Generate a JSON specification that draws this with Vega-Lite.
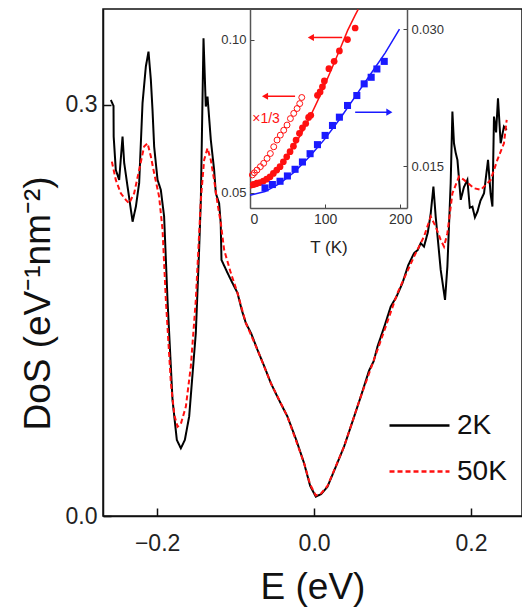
{
  "$schema": "https://vega.github.io/schema/vega-lite/v6.json",
  "width": 419,
  "height": 507,
  "autosize": {"type": "none"},
  "padding": {"left": 103, "top": 9, "right": 0, "bottom": 98},
  "background": "white",
  "config": {
    "view": {"stroke": "#111", "strokeWidth": 1.5},
    "font": "Liberation Sans",
    "axis": {"grid": false, "labelFont": "Liberation Sans", "titleFont": "Liberation Sans"}
  },
  "datasets": {
    "dos": [
      {"E": -0.2590, "DoS": 0.3036, "series": "2K"},
      {"E": -0.2556, "DoS": 0.2993, "series": "2K"},
      {"E": -0.2554, "DoS": 0.2769, "series": "2K"},
      {"E": -0.2527, "DoS": 0.2526, "series": "2K"},
      {"E": -0.2484, "DoS": 0.2453, "series": "2K"},
      {"E": -0.2441, "DoS": 0.2769, "series": "2K"},
      {"E": -0.2420, "DoS": 0.2577, "series": "2K"},
      {"E": -0.2377, "DoS": 0.2404, "series": "2K"},
      {"E": -0.2313, "DoS": 0.2148, "series": "2K"},
      {"E": -0.2271, "DoS": 0.2258, "series": "2K"},
      {"E": -0.2229, "DoS": 0.2431, "series": "2K"},
      {"E": -0.2186, "DoS": 0.3015, "series": "2K"},
      {"E": -0.2144, "DoS": 0.3280, "series": "2K"},
      {"E": -0.2110, "DoS": 0.3389, "series": "2K"},
      {"E": -0.2080, "DoS": 0.3182, "series": "2K"},
      {"E": -0.2059, "DoS": 0.2964, "series": "2K"},
      {"E": -0.2038, "DoS": 0.2696, "series": "2K"},
      {"E": -0.1995, "DoS": 0.2453, "series": "2K"},
      {"E": -0.1953, "DoS": 0.2380, "series": "2K"},
      {"E": -0.1911, "DoS": 0.2185, "series": "2K"},
      {"E": -0.1868, "DoS": 0.1577, "series": "2K"},
      {"E": -0.1804, "DoS": 0.0847, "series": "2K"},
      {"E": -0.1749, "DoS": 0.0555, "series": "2K"},
      {"E": -0.1698, "DoS": 0.0494, "series": "2K"},
      {"E": -0.1647, "DoS": 0.0555, "series": "2K"},
      {"E": -0.1592, "DoS": 0.0725, "series": "2K"},
      {"E": -0.1507, "DoS": 0.1336, "series": "2K"},
      {"E": -0.1465, "DoS": 0.1942, "series": "2K"},
      {"E": -0.1443, "DoS": 0.2307, "series": "2K"},
      {"E": -0.1409, "DoS": 0.3487, "series": "2K"},
      {"E": -0.1380, "DoS": 0.2988, "series": "2K"},
      {"E": -0.1358, "DoS": 0.3061, "series": "2K"},
      {"E": -0.1316, "DoS": 0.2745, "series": "2K"},
      {"E": -0.1274, "DoS": 0.2526, "series": "2K"},
      {"E": -0.1252, "DoS": 0.2355, "series": "2K"},
      {"E": -0.1210, "DoS": 0.2282, "series": "2K"},
      {"E": -0.1190, "DoS": 0.2139, "series": "2K"},
      {"E": -0.1180, "DoS": 0.1869, "series": "2K"},
      {"E": -0.1103, "DoS": 0.1774, "series": "2K"},
      {"E": -0.1040, "DoS": 0.1700, "series": "2K"},
      {"E": -0.0976, "DoS": 0.1628, "series": "2K"},
      {"E": -0.0920, "DoS": 0.1500, "series": "2K"},
      {"E": -0.0870, "DoS": 0.1409, "series": "2K"},
      {"E": -0.0800, "DoS": 0.1330, "series": "2K"},
      {"E": -0.0721, "DoS": 0.1212, "series": "2K"},
      {"E": -0.0640, "DoS": 0.1100, "series": "2K"},
      {"E": -0.0552, "DoS": 0.0971, "series": "2K"},
      {"E": -0.0450, "DoS": 0.0850, "series": "2K"},
      {"E": -0.0339, "DoS": 0.0725, "series": "2K"},
      {"E": -0.0230, "DoS": 0.0560, "series": "2K"},
      {"E": -0.0127, "DoS": 0.0385, "series": "2K"},
      {"E": -0.0050, "DoS": 0.0220, "series": "2K"},
      {"E": 0.0022, "DoS": 0.0141, "series": "2K"},
      {"E": 0.0090, "DoS": 0.0160, "series": "2K"},
      {"E": 0.0171, "DoS": 0.0214, "series": "2K"},
      {"E": 0.0270, "DoS": 0.0350, "series": "2K"},
      {"E": 0.0382, "DoS": 0.0506, "series": "2K"},
      {"E": 0.0490, "DoS": 0.0690, "series": "2K"},
      {"E": 0.0595, "DoS": 0.0871, "series": "2K"},
      {"E": 0.0700, "DoS": 0.1060, "series": "2K"},
      {"E": 0.0760, "DoS": 0.1130, "series": "2K"},
      {"E": 0.0808, "DoS": 0.1236, "series": "2K"},
      {"E": 0.0900, "DoS": 0.1390, "series": "2K"},
      {"E": 0.0977, "DoS": 0.1528, "series": "2K"},
      {"E": 0.1050, "DoS": 0.1600, "series": "2K"},
      {"E": 0.1126, "DoS": 0.1699, "series": "2K"},
      {"E": 0.1200, "DoS": 0.1830, "series": "2K"},
      {"E": 0.1274, "DoS": 0.1918, "series": "2K"},
      {"E": 0.1320, "DoS": 0.1940, "series": "2K"},
      {"E": 0.1359, "DoS": 0.1991, "series": "2K"},
      {"E": 0.1401, "DoS": 0.1966, "series": "2K"},
      {"E": 0.1450, "DoS": 0.2070, "series": "2K"},
      {"E": 0.1487, "DoS": 0.2209, "series": "2K"},
      {"E": 0.1521, "DoS": 0.2404, "series": "2K"},
      {"E": 0.1550, "DoS": 0.2185, "series": "2K"},
      {"E": 0.1614, "DoS": 0.1796, "series": "2K"},
      {"E": 0.1669, "DoS": 0.1577, "series": "2K"},
      {"E": 0.1699, "DoS": 0.1820, "series": "2K"},
      {"E": 0.1741, "DoS": 0.2428, "series": "2K"},
      {"E": 0.1763, "DoS": 0.2951, "series": "2K"},
      {"E": 0.1783, "DoS": 0.2720, "series": "2K"},
      {"E": 0.1805, "DoS": 0.2650, "series": "2K"},
      {"E": 0.1827, "DoS": 0.2599, "series": "2K"},
      {"E": 0.1869, "DoS": 0.2307, "series": "2K"},
      {"E": 0.1910, "DoS": 0.2400, "series": "2K"},
      {"E": 0.1954, "DoS": 0.2453, "series": "2K"},
      {"E": 0.1985, "DoS": 0.2250, "series": "2K"},
      {"E": 0.2018, "DoS": 0.2258, "series": "2K"},
      {"E": 0.2050, "DoS": 0.2180, "series": "2K"},
      {"E": 0.2082, "DoS": 0.2221, "series": "2K"},
      {"E": 0.2120, "DoS": 0.2300, "series": "2K"},
      {"E": 0.2166, "DoS": 0.2355, "series": "2K"},
      {"E": 0.2217, "DoS": 0.2599, "series": "2K"},
      {"E": 0.2250, "DoS": 0.2350, "series": "2K"},
      {"E": 0.2273, "DoS": 0.2258, "series": "2K"},
      {"E": 0.2293, "DoS": 0.2915, "series": "2K"},
      {"E": 0.2320, "DoS": 0.2800, "series": "2K"},
      {"E": 0.2344, "DoS": 0.3049, "series": "2K"},
      {"E": 0.2378, "DoS": 0.2720, "series": "2K"},
      {"E": 0.2420, "DoS": 0.2842, "series": "2K"},
      {"E": 0.2455, "DoS": 0.2818, "series": "2K"},
      {"E": -0.2577, "DoS": 0.2586, "series": "50K"},
      {"E": -0.2527, "DoS": 0.2453, "series": "50K"},
      {"E": -0.2463, "DoS": 0.2355, "series": "50K"},
      {"E": -0.2399, "DoS": 0.2307, "series": "50K"},
      {"E": -0.2357, "DoS": 0.2282, "series": "50K"},
      {"E": -0.2293, "DoS": 0.2355, "series": "50K"},
      {"E": -0.2229, "DoS": 0.2526, "series": "50K"},
      {"E": -0.2166, "DoS": 0.2696, "series": "50K"},
      {"E": -0.2122, "DoS": 0.2720, "series": "50K"},
      {"E": -0.2080, "DoS": 0.2623, "series": "50K"},
      {"E": -0.2038, "DoS": 0.2501, "series": "50K"},
      {"E": -0.1975, "DoS": 0.2331, "series": "50K"},
      {"E": -0.1931, "DoS": 0.2088, "series": "50K"},
      {"E": -0.1889, "DoS": 0.1577, "series": "50K"},
      {"E": -0.1825, "DoS": 0.0971, "series": "50K"},
      {"E": -0.1781, "DoS": 0.0737, "series": "50K"},
      {"E": -0.1740, "DoS": 0.0652, "series": "50K"},
      {"E": -0.1698, "DoS": 0.0672, "series": "50K"},
      {"E": -0.1634, "DoS": 0.0798, "series": "50K"},
      {"E": -0.1571, "DoS": 0.1090, "series": "50K"},
      {"E": -0.1507, "DoS": 0.1577, "series": "50K"},
      {"E": -0.1443, "DoS": 0.2307, "series": "50K"},
      {"E": -0.1401, "DoS": 0.2599, "series": "50K"},
      {"E": -0.1358, "DoS": 0.2684, "series": "50K"},
      {"E": -0.1316, "DoS": 0.2599, "series": "50K"},
      {"E": -0.1274, "DoS": 0.2453, "series": "50K"},
      {"E": -0.1231, "DoS": 0.2282, "series": "50K"},
      {"E": -0.1189, "DoS": 0.2139, "series": "50K"},
      {"E": -0.1146, "DoS": 0.1942, "series": "50K"},
      {"E": -0.1061, "DoS": 0.1774, "series": "50K"},
      {"E": -0.0976, "DoS": 0.1628, "series": "50K"},
      {"E": -0.0870, "DoS": 0.1409, "series": "50K"},
      {"E": -0.0721, "DoS": 0.1212, "series": "50K"},
      {"E": -0.0552, "DoS": 0.0971, "series": "50K"},
      {"E": -0.0339, "DoS": 0.0725, "series": "50K"},
      {"E": -0.0127, "DoS": 0.0385, "series": "50K"},
      {"E": -0.0050, "DoS": 0.0230, "series": "50K"},
      {"E": 0.0022, "DoS": 0.0150, "series": "50K"},
      {"E": 0.0090, "DoS": 0.0165, "series": "50K"},
      {"E": 0.0171, "DoS": 0.0219, "series": "50K"},
      {"E": 0.0382, "DoS": 0.0506, "series": "50K"},
      {"E": 0.0595, "DoS": 0.0871, "series": "50K"},
      {"E": 0.0808, "DoS": 0.1212, "series": "50K"},
      {"E": 0.0913, "DoS": 0.1382, "series": "50K"},
      {"E": 0.1062, "DoS": 0.1626, "series": "50K"},
      {"E": 0.1274, "DoS": 0.1893, "series": "50K"},
      {"E": 0.1401, "DoS": 0.2039, "series": "50K"},
      {"E": 0.1487, "DoS": 0.2185, "series": "50K"},
      {"E": 0.1550, "DoS": 0.2112, "series": "50K"},
      {"E": 0.1614, "DoS": 0.2015, "series": "50K"},
      {"E": 0.1656, "DoS": 0.1966, "series": "50K"},
      {"E": 0.1699, "DoS": 0.2064, "series": "50K"},
      {"E": 0.1763, "DoS": 0.2355, "series": "50K"},
      {"E": 0.1847, "DoS": 0.2477, "series": "50K"},
      {"E": 0.1911, "DoS": 0.2453, "series": "50K"},
      {"E": 0.2038, "DoS": 0.2392, "series": "50K"},
      {"E": 0.2124, "DoS": 0.2380, "series": "50K"},
      {"E": 0.2251, "DoS": 0.2453, "series": "50K"},
      {"E": 0.2336, "DoS": 0.2599, "series": "50K"},
      {"E": 0.2420, "DoS": 0.2720, "series": "50K"},
      {"E": 0.2455, "DoS": 0.2891, "series": "50K"}
    ],
    "redfit": [
      {"T": 0, "v": 0.0515}, {"T": 10, "v": 0.0522}, {"T": 20, "v": 0.0540},
      {"T": 30, "v": 0.0562}, {"T": 40, "v": 0.0588}, {"T": 50, "v": 0.0620},
      {"T": 60, "v": 0.0658}, {"T": 70, "v": 0.0700}, {"T": 80, "v": 0.0748},
      {"T": 90, "v": 0.0800}, {"T": 100, "v": 0.0855}, {"T": 110, "v": 0.0912},
      {"T": 120, "v": 0.0970}, {"T": 130, "v": 0.1030}, {"T": 140, "v": 0.1080},
      {"T": 144, "v": 0.1099}
    ],
    "redfilled": [
      {"T": 4.4, "v": 0.0527}, {"T": 8.9, "v": 0.0531}, {"T": 13.3, "v": 0.0533},
      {"T": 17.8, "v": 0.0538}, {"T": 22.2, "v": 0.0544}, {"T": 26.7, "v": 0.0552},
      {"T": 31.1, "v": 0.0563}, {"T": 35.6, "v": 0.0574}, {"T": 40, "v": 0.0585},
      {"T": 44.4, "v": 0.0601}, {"T": 48.9, "v": 0.0617}, {"T": 53.3, "v": 0.0634},
      {"T": 57.8, "v": 0.0652}, {"T": 61.3, "v": 0.0672}, {"T": 65.8, "v": 0.0694},
      {"T": 69.8, "v": 0.0712}, {"T": 74.2, "v": 0.0726}, {"T": 78, "v": 0.0746},
      {"T": 80.9, "v": 0.0753}, {"T": 89.8, "v": 0.0818}, {"T": 93.3, "v": 0.0829},
      {"T": 96.4, "v": 0.0846}, {"T": 99, "v": 0.0865}, {"T": 105, "v": 0.0905},
      {"T": 112, "v": 0.0929}, {"T": 119, "v": 0.0963}, {"T": 129.8, "v": 0.1000},
      {"T": 140, "v": 0.1038}
    ],
    "redopen": [
      {"T": 3.1, "v": 0.0558}, {"T": 5.8, "v": 0.0565}, {"T": 9.3, "v": 0.0574},
      {"T": 13.8, "v": 0.0585}, {"T": 18.2, "v": 0.0596}, {"T": 22.7, "v": 0.0612},
      {"T": 27.1, "v": 0.0628}, {"T": 31.6, "v": 0.0650}, {"T": 36, "v": 0.0672},
      {"T": 40.4, "v": 0.0688}, {"T": 44.9, "v": 0.0704}, {"T": 49.3, "v": 0.0721},
      {"T": 53.8, "v": 0.0742}, {"T": 58.2, "v": 0.0759}, {"T": 62.7, "v": 0.0775},
      {"T": 66.2, "v": 0.0791}, {"T": 68.9, "v": 0.0811}
    ],
    "bluefit": [
      {"T": 0, "v": 0.0118}, {"T": 20, "v": 0.0122}, {"T": 40, "v": 0.0131},
      {"T": 60, "v": 0.0144}, {"T": 80, "v": 0.0161}, {"T": 100, "v": 0.0180},
      {"T": 120, "v": 0.0202}, {"T": 140, "v": 0.0226}, {"T": 160, "v": 0.0250},
      {"T": 180, "v": 0.0274}, {"T": 199, "v": 0.0300}
    ],
    "bluepts": [
      {"T": 20, "v": 0.0126}, {"T": 29.8, "v": 0.01297}, {"T": 40, "v": 0.01333},
      {"T": 49.8, "v": 0.01391}, {"T": 60, "v": 0.01464}, {"T": 69.8, "v": 0.01544},
      {"T": 80, "v": 0.01635}, {"T": 89.8, "v": 0.01734}, {"T": 100, "v": 0.01835},
      {"T": 109.8, "v": 0.01944}, {"T": 119, "v": 0.02035}, {"T": 129.8, "v": 0.02163},
      {"T": 142.2, "v": 0.02272}, {"T": 152, "v": 0.02400}, {"T": 161.3, "v": 0.02472},
      {"T": 168.9, "v": 0.02563}, {"T": 178.7, "v": 0.02646}
    ]
  },
  "layer": [
    {
      "data": {"name": "dos"},
      "mark": {"type": "line", "strokeWidth": 2},
      "encoding": {
        "x": {
          "field": "E", "type": "quantitative",
          "scale": {"domain": [-0.269, 0.265], "nice": false, "zero": false},
          "axis": {
            "orient": "bottom", "title": "E (eV)", "values": [-0.2, 0, 0.2], "format": ".1f",
            "tickSize": -8, "tickWidth": 1.5, "tickColor": "#111",
            "domainColor": "#111", "domainWidth": 1.5,
            "labelFontSize": 23, "labelColor": "#222", "labelPadding": 24,
            "titleFontSize": 37, "titleFontWeight": "normal", "titleColor": "#111",
            "titleBaseline": "alphabetic", "titleY": 82
          }
        },
        "y": {
          "field": "DoS", "type": "quantitative",
          "scale": {"domain": [0, 0.37], "nice": false},
          "axis": {
            "orient": "left", "title": "DoS (eV⁻¹nm⁻²)", "values": [0, 0.3], "format": ".1f",
            "tickSize": -8, "tickWidth": 1.5, "tickColor": "#111",
            "domainColor": "#111", "domainWidth": 1.5,
            "labelFontSize": 23, "labelColor": "#222", "labelPadding": 14,
            "titleFontSize": 37, "titleFontWeight": "normal", "titleColor": "#111",
            "titleX": -46, "titleY": 294
          }
        },
        "color": {
          "field": "series", "type": "nominal",
          "scale": {"domain": ["2K", "50K"], "range": ["#000000", "#ff1010"]},
          "legend": {
            "title": null, "orient": "none", "legendX": 285, "legendY": 385,
            "symbolType": "stroke", "symbolSize": 3600, "symbolStrokeWidth": 2.5,
            "labelFontSize": 28, "labelColor": "#111", "labelOffset": 6, "rowPadding": -22
          }
        },
        "strokeDash": {
          "field": "series", "type": "nominal",
          "scale": {"domain": ["2K", "50K"], "range": [[1, 0], [5, 3]]},
          "legend": {
            "title": null, "orient": "none", "legendX": 285, "legendY": 385,
            "symbolType": "stroke", "symbolSize": 3600, "symbolStrokeWidth": 2.5,
            "labelFontSize": 28, "labelColor": "#111", "labelOffset": 6, "rowPadding": -22
          }
        }
      }
    },
    {
      "layer": [
        {
          "layer": [
            {
              "data": {"name": "redfit"},
              "mark": {"type": "line", "color": "#ff1010", "strokeWidth": 1.5},
              "encoding": {
                "x": {
                  "field": "T", "type": "quantitative",
                  "scale": {"domain": [0, 209], "range": [147, 304], "nice": false, "zero": false},
                  "axis": {
                    "orient": "bottom", "title": "T (K)", "values": [0, 100, 200], "offset": -308,
                    "tickSize": -4, "tickColor": "#444", "domainColor": "#555", "domainWidth": 1.5,
                    "labelFontSize": 14, "labelColor": "#333", "labelPadding": 8,
                    "titleFontSize": 17, "titleFontWeight": "normal", "titleColor": "#222",
                    "titleBaseline": "alphabetic", "titleY": 44
                  }
                },
                "y": {
                  "field": "v", "type": "quantitative",
                  "scale": {"domain": [0.045, 0.11], "range": [199, 0], "nice": false, "zero": false},
                  "axis": {
                    "orient": "left", "title": null, "values": [0.05, 0.1], "format": ".2f", "offset": -147,
                    "tickSize": -4, "tickColor": "#444", "domainColor": "#555", "domainWidth": 1.5,
                    "labelFontSize": 13, "labelColor": "#333", "labelPadding": 8
                  }
                }
              }
            },
            {
              "data": {"name": "redfilled"},
              "mark": {"type": "point", "shape": "circle", "filled": true, "color": "#ff1010", "size": 45, "opacity": 1},
              "encoding": {
                "x": {"field": "T", "type": "quantitative"},
                "y": {"field": "v", "type": "quantitative"}
              }
            },
            {
              "data": {"name": "redopen"},
              "mark": {"type": "point", "shape": "circle", "filled": false, "color": "#ff1010", "size": 35, "strokeWidth": 1, "opacity": 1},
              "encoding": {
                "x": {"field": "T", "type": "quantitative"},
                "y": {"field": "v", "type": "quantitative"}
              }
            },
            {
              "data": {"values": [{}]},
              "mark": {"type": "rule", "color": "#ff1010", "strokeWidth": 1.5},
              "encoding": {
                "x": {"datum": 82, "type": "quantitative"},
                "x2": {"datum": 122.7},
                "y": {"datum": 0.1007, "type": "quantitative"}
              }
            },
            {
              "data": {"values": [{}]},
              "mark": {"type": "point", "shape": "triangle-left", "filled": true, "color": "#ff1010", "size": 50, "opacity": 1},
              "encoding": {
                "x": {"datum": 81, "type": "quantitative"},
                "y": {"datum": 0.1007, "type": "quantitative"}
              }
            },
            {
              "data": {"values": [{}]},
              "mark": {"type": "rule", "color": "#ff1010", "strokeWidth": 1.5},
              "encoding": {
                "x": {"datum": 21, "type": "quantitative"},
                "x2": {"datum": 60},
                "y": {"datum": 0.0815, "type": "quantitative"}
              }
            },
            {
              "data": {"values": [{}]},
              "mark": {"type": "point", "shape": "triangle-left", "filled": true, "color": "#ff1010", "size": 50, "opacity": 1},
              "encoding": {
                "x": {"datum": 20, "type": "quantitative"},
                "y": {"datum": 0.0815, "type": "quantitative"}
              }
            },
            {
              "data": {"values": [{}]},
              "mark": {"type": "text", "text": "×1/3", "color": "#ff1010", "fontSize": 14, "align": "left", "baseline": "middle"},
              "encoding": {
                "x": {"datum": 3, "type": "quantitative"},
                "y": {"datum": 0.074, "type": "quantitative"}
              }
            }
          ]
        },
        {
          "layer": [
            {
              "data": {"name": "bluefit"},
              "mark": {"type": "line", "color": "#1a1aff", "strokeWidth": 1.5},
              "encoding": {
                "x": {"field": "T", "type": "quantitative"},
                "y": {
                  "field": "v", "type": "quantitative",
                  "scale": {"domain": [0.0104, 0.0322], "range": [199, 0], "nice": false, "zero": false},
                  "axis": {
                    "orient": "right", "title": null, "values": [0.015, 0.03], "format": ".3f", "offset": -115,
                    "tickSize": -4, "tickColor": "#444", "domainColor": "#555", "domainWidth": 1.5,
                    "labelFontSize": 13, "labelColor": "#333", "labelPadding": 8
                  }
                }
              }
            },
            {
              "data": {"name": "bluepts"},
              "mark": {"type": "point", "shape": "square", "filled": true, "color": "#1a1aff", "size": 50, "opacity": 1},
              "encoding": {
                "x": {"field": "T", "type": "quantitative"},
                "y": {"field": "v", "type": "quantitative"}
              }
            },
            {
              "data": {"values": [{}]},
              "mark": {"type": "rule", "color": "#1a1aff", "strokeWidth": 1.5},
              "encoding": {
                "x": {"datum": 140, "type": "quantitative"},
                "x2": {"datum": 184.5},
                "y": {"datum": 0.0209, "type": "quantitative"}
              }
            },
            {
              "data": {"values": [{}]},
              "mark": {"type": "point", "shape": "triangle-right", "filled": true, "color": "#1a1aff", "size": 50, "opacity": 1},
              "encoding": {
                "x": {"datum": 185.5, "type": "quantitative"},
                "y": {"datum": 0.0209, "type": "quantitative"}
              }
            }
          ]
        }
      ],
      "resolve": {"scale": {"y": "independent"}, "axis": {"y": "independent"}}
    }
  ],
  "resolve": {"scale": {"x": "independent", "y": "independent"}, "axis": {"x": "independent", "y": "independent"}}
}
